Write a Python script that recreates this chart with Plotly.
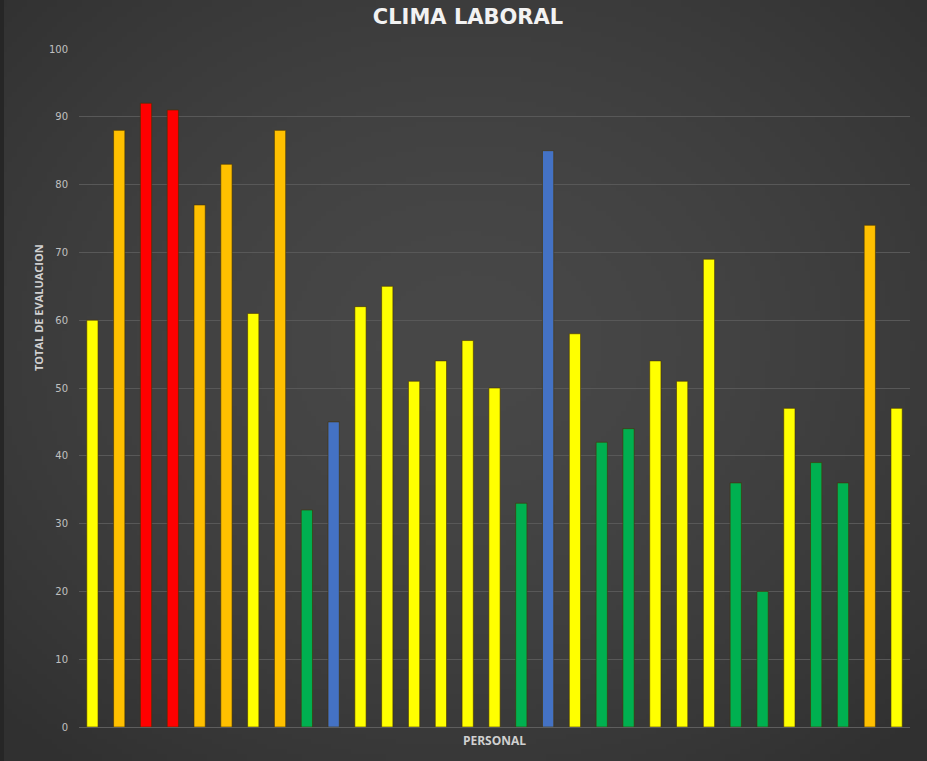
import base64
import struct
import zlib

import numpy as np
import plotly.graph_objects as go

personal = [f"P{i}" for i in range(1, 32)]
valores = [60, 88, 92, 91, 77, 83, 61, 88, 32, 45, 62, 65, 51, 54, 57, 50,
           33, 85, 58, 42, 44, 54, 51, 69, 36, 20, 47, 39, 36, 74, 47]
niveles = ["Y", "O", "R", "R", "O", "O", "Y", "O", "G", "B", "Y", "Y", "Y", "Y", "Y", "Y",
           "G", "B", "Y", "G", "G", "Y", "Y", "Y", "G", "G", "Y", "G", "G", "O", "Y"]
paleta = {"Y": "#FFFF00", "O": "#FFC000", "R": "#FF0000", "G": "#00B050", "B": "#4472C4"}
y_ticks = list(range(0, 101, 10))


def fondo_png(w=186, h=153):
    yy, xx = np.mgrid[0:h, 0:w]
    dx = (xx - w * 0.5) / (w * 0.5)
    dy = (yy - h * 0.45) / (h * 0.5)
    r = np.clip(np.sqrt(dx ** 2 + dy ** 2) / 1.42, 0, 1)
    v = (72 - 24 * r ** 1.6).astype(np.uint8)
    img = np.stack([v, v, v], axis=-1)
    raw = b"".join(b"\x00" + img[i].tobytes() for i in range(h))

    def chunk(tag, data):
        c = tag + data
        return struct.pack(">I", len(data)) + c + struct.pack(">I", zlib.crc32(c) & 0xffffffff)

    png = b"\x89PNG\r\n\x1a\n" + chunk(b"IHDR", struct.pack(">IIBBBBB", w, h, 8, 2, 0, 0, 0)) \
        + chunk(b"IDAT", zlib.compress(raw, 9)) + chunk(b"IEND", b"")
    return "data:image/png;base64," + base64.b64encode(png).decode()


fig = go.Figure(go.Bar(
    x=personal, y=valores,
    marker=dict(color=[paleta[n] for n in niveles],
                line=dict(color="rgba(70,50,0,0.6)", width=1)),
    width=0.42,
))

W, H = 927, 761
L, R, T, B = 79, 17, 49, 34
pw, ph = W - L - R, H - T - B

fig.update_layout(
    width=W, height=H,
    margin=dict(l=L, r=R, t=T, b=B),
    paper_bgcolor="#3d3d3d",
    plot_bgcolor="rgba(0,0,0,0)",
    title=dict(text="<b>CLIMA LABORAL</b>", x=468 / W, xanchor="center",
               xref="container", y=1 - 17 / H, yref="container", yanchor="middle",
               font=dict(family="DejaVu Sans", size=21, color="#f2f2f2")),
    font=dict(family="DejaVu Sans", color="#bfbfbf"),
    showlegend=False,
    images=[dict(source=fondo_png(), xref="paper", yref="paper",
                 x=-L / pw, y=1 + T / ph, sizex=W / pw, sizey=H / ph,
                 xanchor="left", yanchor="top", sizing="stretch", layer="below")],
    shapes=[dict(type="rect", xref="paper", yref="paper", x0=-L / pw, x1=(4 - L) / pw,
                 y0=-B / ph, y1=1 + T / ph, fillcolor="#262626", line=dict(width=0), layer="below")],
    annotations=[dict(text="<b>TOTAL DE EVALUACION</b>", textangle=-90, xref="paper", yref="paper",
                      x=(38 - L) / pw, y=(727 - 308) / ph, xanchor="center", yanchor="middle",
                      showarrow=False, font=dict(size=11, color="#d0d0d0", family="Open Sans"))],
)
fig.update_xaxes(showticklabels=False, showgrid=False, zeroline=False, showline=False,
                 title=dict(text="<b>PERSONAL</b>", standoff=9,
                            font=dict(size=12, color="#d0d0d0", family="Open Sans")))
fig.update_yaxes(range=[0, 100], tickvals=y_ticks, showgrid=True, gridcolor="#585858", gridwidth=1,
                 zeroline=True, zerolinecolor="#5e5e5e", zerolinewidth=1,
                 tickfont=dict(size=10, color="#c0c0c0"), ticks="", ticklabelstandoff=10)

fig.write_html("out.html")
